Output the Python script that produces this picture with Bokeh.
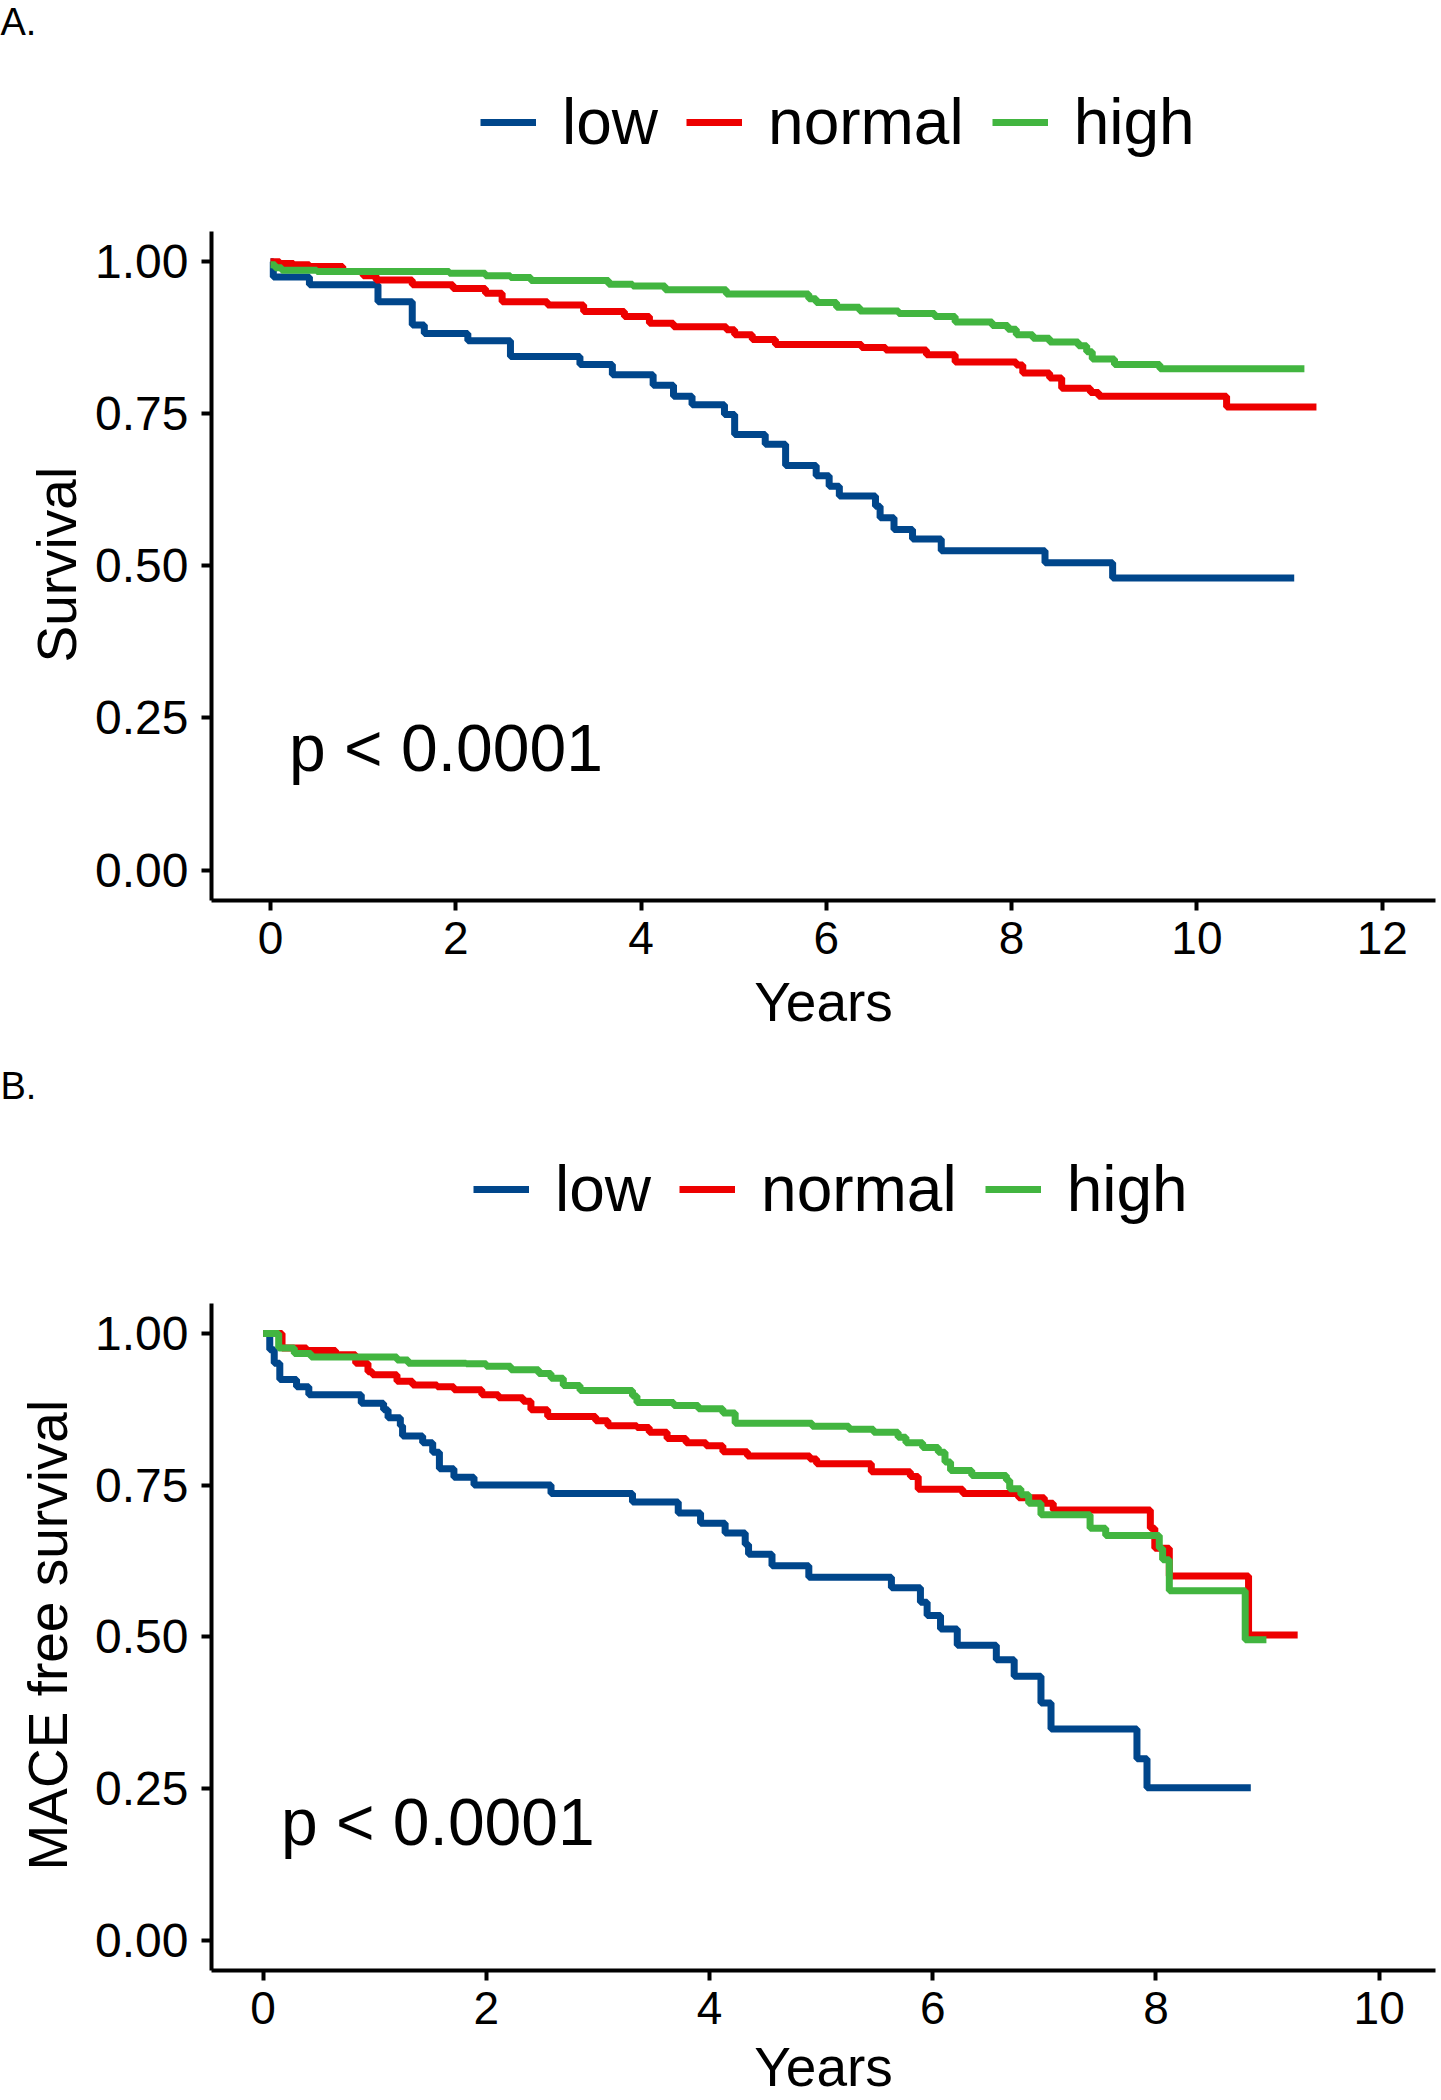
from bokeh.plotting import figure
from bokeh.models import (Legend, LegendItem, Label, FixedTicker, Title,
                          PrintfTickFormatter, Range1d)
from bokeh.layouts import column
from bokeh.embed import file_html
from bokeh.resources import INLINE

# ---------------- data ----------------
groups = ["low", "normal", "high"]
colors = ["#00468B", "#ED0000", "#42B540"]

# Panel A: overall survival
a_low_t = [0, 0.03, 0.42, 1.16, 1.53, 1.66, 2.13, 2.59, 3.34, 3.69, 4.13, 4.35, 4.55,
           4.90, 5.01, 5.34, 5.56, 5.89, 6.03, 6.14, 6.53, 6.58, 6.73, 6.93, 7.24,
           8.36, 9.09, 11.05]
a_low_s = [1.0, 0.975, 0.962, 0.934, 0.896, 0.882, 0.870, 0.844, 0.831, 0.814, 0.797,
           0.779, 0.765, 0.749, 0.716, 0.700, 0.665, 0.648, 0.631, 0.615, 0.598, 0.579,
           0.560, 0.544, 0.525, 0.505, 0.480, 0.480]

a_norm_t = [0, 0.10, 0.25, 0.42, 0.78, 1.00, 1.14, 1.53, 1.97, 2.32, 2.50, 2.99, 3.38,
            3.82, 4.09, 4.35, 4.92, 5.01, 5.20, 5.45, 6.38, 6.64, 7.08, 7.39, 8.05,
            8.12, 8.41, 8.54, 8.85, 8.94, 10.32, 11.29]
a_norm_s = [1.0, 0.997, 0.995, 0.992, 0.984, 0.977, 0.970, 0.962, 0.956, 0.948, 0.934,
            0.929, 0.918, 0.910, 0.899, 0.893, 0.888, 0.880, 0.872, 0.864, 0.859, 0.855,
            0.847, 0.835, 0.830, 0.817, 0.809, 0.792, 0.785, 0.779, 0.761, 0.761]

a_high_t = [0, 0.05, 0.12, 0.50, 1.93, 2.32, 2.59, 2.81, 3.65, 3.91, 4.26, 4.92, 5.81,
            5.89, 6.11, 6.36, 6.78, 7.17, 7.39, 7.79, 7.96, 8.05, 8.23, 8.41, 8.72,
            8.81, 8.87, 9.11, 9.60, 11.16]
a_high_s = [0.995, 0.990, 0.986, 0.984, 0.981, 0.977, 0.974, 0.969, 0.963, 0.960, 0.954,
            0.947, 0.939, 0.933, 0.925, 0.919, 0.915, 0.910, 0.901, 0.895, 0.889, 0.880,
            0.874, 0.868, 0.862, 0.852, 0.840, 0.831, 0.824, 0.824]

# Panel B: MACE free survival
b_low_t = [0, 0.06, 0.10, 0.15, 0.30, 0.41, 0.88, 1.08, 1.12, 1.23, 1.25, 1.43, 1.52,
           1.58, 1.71, 1.89, 2.58, 3.31, 3.72, 3.92, 4.14, 4.32, 4.35, 4.56, 4.89, 5.63,
           5.89, 5.95, 6.07, 6.22, 6.57, 6.73, 6.97, 7.06, 7.83, 7.92, 8.85]
b_low_s = [1.0, 0.973, 0.951, 0.924, 0.912, 0.899, 0.885, 0.874, 0.861, 0.848, 0.831,
           0.820, 0.804, 0.777, 0.763, 0.750, 0.736, 0.722, 0.704, 0.687, 0.671, 0.652,
           0.636, 0.617, 0.598, 0.581, 0.557, 0.535, 0.513, 0.486, 0.462, 0.435, 0.391,
           0.348, 0.299, 0.251, 0.251]

b_norm_t = [0, 0.17, 0.39, 0.65, 0.83, 0.94, 0.98, 1.20, 1.34, 1.56, 1.71, 1.96, 2.11,
            2.33, 2.40, 2.55, 2.98, 3.09, 3.35, 3.46, 3.62, 3.79, 3.97, 4.12, 4.34, 4.90,
            4.96, 5.45, 5.80, 5.87, 6.27, 6.77, 7.00, 7.08, 7.95, 7.99, 8.12, 8.83, 9.27]
b_norm_s = [1.0, 0.976, 0.972, 0.965, 0.951, 0.937, 0.932, 0.921, 0.915, 0.912, 0.907,
            0.899, 0.894, 0.888, 0.874, 0.863, 0.856, 0.848, 0.845, 0.837, 0.827, 0.820,
            0.815, 0.805, 0.798, 0.793, 0.785, 0.772, 0.764, 0.743, 0.736, 0.729, 0.720,
            0.709, 0.679, 0.646, 0.600, 0.503, 0.503]

b_high_t = [0, 0.14, 0.28, 0.43, 1.20, 1.30, 1.82, 2.00, 2.22, 2.47, 2.58, 2.69, 2.84,
            3.31, 3.35, 3.68, 3.90, 4.12, 4.23, 4.92, 5.25, 5.47, 5.69, 5.76, 5.91, 6.05,
            6.11, 6.16, 6.35, 6.66, 6.69, 6.79, 6.86, 6.97, 7.41, 7.55, 8.03, 8.06, 8.12,
            8.80, 8.99]
b_high_s = [1.0, 0.976, 0.967, 0.961, 0.956, 0.951, 0.950, 0.946, 0.940, 0.934, 0.926,
            0.914, 0.906, 0.897, 0.886, 0.881, 0.876, 0.869, 0.852, 0.847, 0.842, 0.837,
            0.829, 0.820, 0.812, 0.804, 0.788, 0.774, 0.766, 0.758, 0.744, 0.734, 0.720,
            0.701, 0.679, 0.667, 0.646, 0.627, 0.576, 0.495, 0.495]

a_xticks = [0, 2, 4, 6, 8, 10, 12]
b_xticks = [0, 2, 4, 6, 8, 10]
yticks = [0.0, 0.25, 0.5, 0.75, 1.0]
pval_text = "p < 0.0001"

FONT = "Liberation Sans"
LEFT = 211


def make_panel(tag, ylabel, curves, xticks, xr, ytop, height, mb_bottom,
               legend_xy, xlabel_standoff, ylabel_offset, ylabel_standoff, pval_xy):
    p = figure(width=1441, height=height, output_backend="svg", toolbar_location=None,
               x_range=Range1d(*xr), y_range=Range1d(-0.05, ytop),
               min_border_top=42, min_border_left=LEFT,
               min_border_bottom=mb_bottom, min_border_right=6)
    p.outline_line_color = None
    p.xgrid.grid_line_color = None
    p.ygrid.grid_line_color = None
    p.background_fill_color = "white"
    p.border_fill_color = "white"

    # panel tag
    p.title.text = tag
    p.title.align = "left"
    p.title.offset = -LEFT
    p.title.vertical_align = "top"
    p.title.standoff = 0
    p.title.text_font = FONT
    p.title.text_font_size = "38px"
    p.title.text_font_style = "normal"
    p.title.text_color = "black"

    renderers = []
    for (t, s), col in zip(curves, colors):
        r = p.step(t, s, mode="after", line_color=col, line_width=7)
        renderers.append(r)

    for ax in (p.xaxis[0], p.yaxis[0]):
        ax.axis_line_width = 4
        ax.axis_line_color = "black"
        ax.major_tick_line_width = 4
        ax.major_tick_line_color = "black"
        ax.major_tick_out = 10
        ax.major_tick_in = 0
        ax.minor_tick_line_color = None
        ax.major_label_text_font = FONT
        ax.major_label_text_color = "black"
        ax.axis_label_text_font = FONT
        ax.axis_label_text_font_size = "55px"
        ax.axis_label_text_font_style = "normal"
        ax.axis_label_text_color = "black"

    p.xaxis[0].ticker = FixedTicker(ticks=xticks)
    p.xaxis[0].formatter = PrintfTickFormatter(format="%d")
    p.xaxis[0].major_label_text_font_size = "46px"
    p.xaxis[0].major_label_standoff = 11
    p.xaxis[0].axis_label = "Years"
    p.xaxis[0].axis_label_standoff = xlabel_standoff

    p.yaxis[0].ticker = FixedTicker(ticks=yticks)
    p.yaxis[0].formatter = PrintfTickFormatter(format="%.2f")
    p.yaxis[0].major_label_text_font_size = "48px"
    p.yaxis[0].major_label_standoff = 13
    p.yaxis[0].bounds = (-0.05, 1.05)

    # y axis title, centred on the 0..1 axis span rather than the whole frame
    p.add_layout(Title(text=ylabel, align="left", offset=ylabel_offset,
                       vertical_align="bottom", standoff=ylabel_standoff,
                       text_font=FONT, text_font_size="55px",
                       text_font_style="normal", text_color="black"), "left")

    legend = Legend(items=[LegendItem(label=g, renderers=[r])
                           for g, r in zip(groups, renderers)],
                    orientation="horizontal", location=legend_xy,
                    glyph_width=56, glyph_height=20, label_standoff=26, spacing=28,
                    padding=0, margin=0, border_line_color=None,
                    background_fill_alpha=0,
                    label_text_font=FONT, label_text_font_size="64px",
                    label_text_color="black")
    p.add_layout(legend, "center")

    p.add_layout(Label(x=pval_xy[0], y=pval_xy[1], text=pval_text, text_font=FONT,
                       text_font_size="66px", text_baseline="middle",
                       text_color="black"))
    return p


# Panel A canvas: 0..1064, frame ~42..900; Panel B canvas: 1064..2100, frame ~1106..1974
pA = make_panel("A.", "Survival",
                [(a_low_t, a_low_s), (a_norm_t, a_norm_s), (a_high_t, a_high_s)],
                a_xticks, (-0.637, 12.575), 1.357, height=1064, mb_bottom=164,
                legend_xy=(269, 741), xlabel_standoff=14,
                ylabel_offset=238, ylabel_standoff=10, pval_xy=(0.20, 0.2))

pB = make_panel("B.", "MACE free survival",
                [(b_low_t, b_low_s), (b_norm_t, b_norm_s), (b_high_t, b_high_s)],
                b_xticks, (-0.462, 10.505), 1.3707, height=1036, mb_bottom=126,
                legend_xy=(262, 744), xlabel_standoff=9,
                ylabel_offset=100, ylabel_standoff=28, pval_xy=(0.16, 0.195))

layout = column(pA, pB, spacing=0)
open("out.html", "w").write(file_html(layout, INLINE))
